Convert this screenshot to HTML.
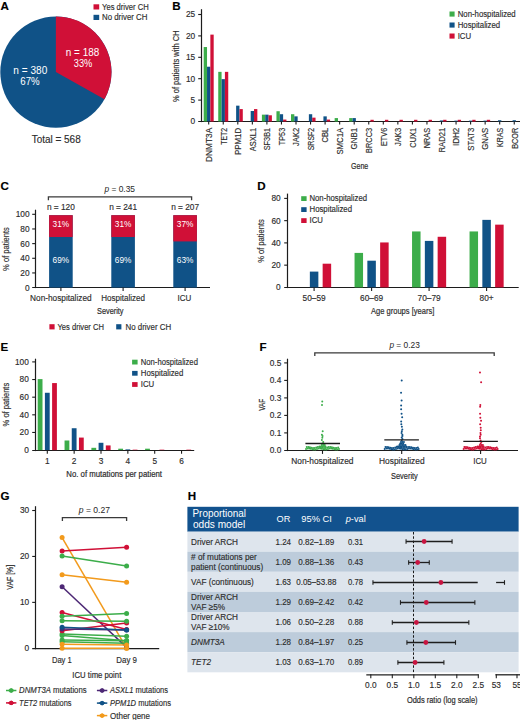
<!DOCTYPE html>
<html><head><meta charset="utf-8"><style>
html,body{margin:0;padding:0;background:#fff;width:520px;height:720px;overflow:hidden}
svg{display:block}
text{font-family:"Liberation Sans", sans-serif}
</style></head><body>
<svg width="520" height="720" viewBox="0 0 520 720">
<text x="0.6" y="9.6" font-size="11.6" fill="#000" stroke="#000" stroke-width="0.15" font-weight="bold">A</text>
<circle cx="55.9" cy="72.1" r="55.6" fill="#105287"/>
<path d="M55.9 72.1 L55.9 16.499999999999993 A55.6 55.6 0 0 1 104.46 99.19 Z" fill="#d01037"/>
<text x="82.5" y="55.8" font-size="10.69" text-anchor="middle" fill="#fff" textLength="33.4" lengthAdjust="spacingAndGlyphs">n = 188</text>
<text x="83" y="66.6" font-size="10.69" text-anchor="middle" fill="#fff" textLength="18.5" lengthAdjust="spacingAndGlyphs">33%</text>
<text x="30.3" y="73.8" font-size="10.69" text-anchor="middle" fill="#fff" textLength="33.9" lengthAdjust="spacingAndGlyphs">n = 380</text>
<text x="30" y="85.4" font-size="10.69" text-anchor="middle" fill="#fff" textLength="19.4" lengthAdjust="spacingAndGlyphs">67%</text>
<text x="31.7" y="142.75" font-size="11.19" fill="#2c2c2c" stroke="#2c2c2c" stroke-width="0.15" textLength="49" lengthAdjust="spacingAndGlyphs">Total = 568</text>
<rect x="93.5" y="4.3" width="5.7" height="5.2" fill="#d01037"/>
<text x="102" y="9.6" font-size="8.85" fill="#2c2c2c" stroke="#2c2c2c" stroke-width="0.15" textLength="46.8" lengthAdjust="spacingAndGlyphs">Yes driver CH</text>
<rect x="93.5" y="14.8" width="5.7" height="5.2" fill="#105287"/>
<text x="102" y="20.3" font-size="8.85" fill="#2c2c2c" stroke="#2c2c2c" stroke-width="0.15" textLength="45.4" lengthAdjust="spacingAndGlyphs">No driver CH</text>
<text x="172.2" y="9.6" font-size="11.6" fill="#000" stroke="#000" stroke-width="0.15" font-weight="bold">B</text>
<line x1="201.5" y1="9.2" x2="201.5" y2="122.1" stroke="#1c1c1c" stroke-width="1.2"/>
<line x1="198.2" y1="121.5" x2="520" y2="121.5" stroke="#1c1c1c" stroke-width="1.2"/>
<text x="195.2" y="124.4" font-size="8.3" text-anchor="end" fill="#2c2c2c" stroke="#2c2c2c" stroke-width="0.15">0</text>
<line x1="198.2" y1="100.1" x2="201.5" y2="100.1" stroke="#1c1c1c" stroke-width="1.1"/>
<text x="195.2" y="103" font-size="8.3" text-anchor="end" fill="#2c2c2c" stroke="#2c2c2c" stroke-width="0.15">5</text>
<line x1="198.2" y1="78.7" x2="201.5" y2="78.7" stroke="#1c1c1c" stroke-width="1.1"/>
<text x="195.2" y="81.6" font-size="8.3" text-anchor="end" fill="#2c2c2c" stroke="#2c2c2c" stroke-width="0.15">10</text>
<line x1="198.2" y1="57.3" x2="201.5" y2="57.3" stroke="#1c1c1c" stroke-width="1.1"/>
<text x="195.2" y="60.2" font-size="8.3" text-anchor="end" fill="#2c2c2c" stroke="#2c2c2c" stroke-width="0.15">15</text>
<line x1="198.2" y1="35.9" x2="201.5" y2="35.9" stroke="#1c1c1c" stroke-width="1.1"/>
<text x="195.2" y="38.8" font-size="8.3" text-anchor="end" fill="#2c2c2c" stroke="#2c2c2c" stroke-width="0.15">20</text>
<line x1="198.2" y1="14.5" x2="201.5" y2="14.5" stroke="#1c1c1c" stroke-width="1.1"/>
<text x="195.2" y="17.4" font-size="8.3" text-anchor="end" fill="#2c2c2c" stroke="#2c2c2c" stroke-width="0.15">25</text>
<rect x="203.7" y="47.03" width="3.33" height="74.47" fill="#3cad4a"/>
<rect x="207.03" y="66.72" width="3.33" height="54.78" fill="#105287"/>
<rect x="210.36" y="34.62" width="3.33" height="86.88" fill="#d01037"/>
<line x1="208.7" y1="121.5" x2="208.7" y2="124.5" stroke="#1c1c1c" stroke-width="1.1"/>
<text x="212" y="127.8" font-size="8.2" text-anchor="end" fill="#2c2c2c" stroke="#2c2c2c" stroke-width="0.15" textLength="34.2" lengthAdjust="spacingAndGlyphs" transform="rotate(-90 212 127.8)">DNMT3A</text>
<rect x="218.25" y="71.85" width="3.33" height="49.65" fill="#3cad4a"/>
<rect x="221.58" y="79.13" width="3.33" height="42.37" fill="#105287"/>
<rect x="224.91" y="71.85" width="3.33" height="49.65" fill="#d01037"/>
<line x1="223.25" y1="121.5" x2="223.25" y2="124.5" stroke="#1c1c1c" stroke-width="1.1"/>
<text x="226.55" y="127.8" font-size="8.2" text-anchor="end" fill="#2c2c2c" stroke="#2c2c2c" stroke-width="0.15" textLength="17" lengthAdjust="spacingAndGlyphs" transform="rotate(-90 226.55 127.8)">TET2</text>
<rect x="236.13" y="105.66" width="3.33" height="15.84" fill="#105287"/>
<rect x="239.46" y="109.09" width="3.33" height="12.41" fill="#d01037"/>
<line x1="237.8" y1="121.5" x2="237.8" y2="124.5" stroke="#1c1c1c" stroke-width="1.1"/>
<text x="241.1" y="127.8" font-size="8.2" text-anchor="end" fill="#2c2c2c" stroke="#2c2c2c" stroke-width="0.15" textLength="27.3" lengthAdjust="spacingAndGlyphs" transform="rotate(-90 241.1 127.8)">PPM1D</text>
<rect x="250.68" y="111.01" width="3.33" height="10.49" fill="#105287"/>
<rect x="254.01" y="109.09" width="3.33" height="12.41" fill="#d01037"/>
<line x1="252.35" y1="121.5" x2="252.35" y2="124.5" stroke="#1c1c1c" stroke-width="1.1"/>
<text x="255.65" y="127.8" font-size="8.2" text-anchor="end" fill="#2c2c2c" stroke="#2c2c2c" stroke-width="0.15" textLength="23.4" lengthAdjust="spacingAndGlyphs" transform="rotate(-90 255.65 127.8)">ASXL1</text>
<rect x="261.9" y="114.65" width="3.33" height="6.85" fill="#3cad4a"/>
<rect x="265.23" y="114.65" width="3.33" height="6.85" fill="#105287"/>
<rect x="268.56" y="115.29" width="3.33" height="6.21" fill="#d01037"/>
<line x1="266.9" y1="121.5" x2="266.9" y2="124.5" stroke="#1c1c1c" stroke-width="1.1"/>
<text x="270.2" y="127.8" font-size="8.2" text-anchor="end" fill="#2c2c2c" stroke="#2c2c2c" stroke-width="0.15" textLength="22.5" lengthAdjust="spacingAndGlyphs" transform="rotate(-90 270.2 127.8)">SF3B1</text>
<rect x="276.45" y="111.23" width="3.33" height="10.27" fill="#3cad4a"/>
<rect x="279.78" y="114.22" width="3.33" height="7.28" fill="#105287"/>
<rect x="283.11" y="119.57" width="3.33" height="1.93" fill="#d01037"/>
<line x1="281.45" y1="121.5" x2="281.45" y2="124.5" stroke="#1c1c1c" stroke-width="1.1"/>
<text x="284.75" y="127.8" font-size="8.2" text-anchor="end" fill="#2c2c2c" stroke="#2c2c2c" stroke-width="0.15" textLength="17.4" lengthAdjust="spacingAndGlyphs" transform="rotate(-90 284.75 127.8)">TP53</text>
<rect x="291" y="114.22" width="3.33" height="7.28" fill="#3cad4a"/>
<rect x="294.33" y="116.36" width="3.33" height="5.14" fill="#105287"/>
<line x1="296" y1="121.5" x2="296" y2="124.5" stroke="#1c1c1c" stroke-width="1.1"/>
<text x="299.3" y="127.8" font-size="8.2" text-anchor="end" fill="#2c2c2c" stroke="#2c2c2c" stroke-width="0.15" textLength="18.2" lengthAdjust="spacingAndGlyphs" transform="rotate(-90 299.3 127.8)">JAK2</text>
<rect x="308.88" y="114.22" width="3.33" height="7.28" fill="#105287"/>
<rect x="312.21" y="117.65" width="3.33" height="3.85" fill="#d01037"/>
<line x1="310.55" y1="121.5" x2="310.55" y2="124.5" stroke="#1c1c1c" stroke-width="1.1"/>
<text x="313.85" y="127.8" font-size="8.2" text-anchor="end" fill="#2c2c2c" stroke="#2c2c2c" stroke-width="0.15" textLength="22.5" lengthAdjust="spacingAndGlyphs" transform="rotate(-90 313.85 127.8)">SRSF2</text>
<rect x="323.43" y="116.36" width="3.33" height="5.14" fill="#105287"/>
<rect x="326.76" y="119.57" width="3.33" height="1.93" fill="#d01037"/>
<line x1="325.1" y1="121.5" x2="325.1" y2="124.5" stroke="#1c1c1c" stroke-width="1.1"/>
<text x="328.4" y="127.8" font-size="8.2" text-anchor="end" fill="#2c2c2c" stroke="#2c2c2c" stroke-width="0.15" textLength="14.7" lengthAdjust="spacingAndGlyphs" transform="rotate(-90 328.4 127.8)">CBL</text>
<rect x="334.65" y="118.08" width="3.33" height="3.42" fill="#3cad4a"/>
<line x1="339.65" y1="121.5" x2="339.65" y2="124.5" stroke="#1c1c1c" stroke-width="1.1"/>
<text x="342.95" y="127.8" font-size="8.2" text-anchor="end" fill="#2c2c2c" stroke="#2c2c2c" stroke-width="0.15" textLength="26.8" lengthAdjust="spacingAndGlyphs" transform="rotate(-90 342.95 127.8)">SMC1A</text>
<rect x="349.2" y="118.08" width="3.33" height="3.42" fill="#3cad4a"/>
<rect x="352.53" y="118.08" width="3.33" height="3.42" fill="#105287"/>
<line x1="354.2" y1="121.5" x2="354.2" y2="124.5" stroke="#1c1c1c" stroke-width="1.1"/>
<text x="357.5" y="127.8" font-size="8.2" text-anchor="end" fill="#2c2c2c" stroke="#2c2c2c" stroke-width="0.15" textLength="21.6" lengthAdjust="spacingAndGlyphs" transform="rotate(-90 357.5 127.8)">GNB1</text>
<rect x="370.41" y="119.79" width="3.33" height="1.71" fill="#d01037"/>
<line x1="368.75" y1="121.5" x2="368.75" y2="124.5" stroke="#1c1c1c" stroke-width="1.1"/>
<text x="372.05" y="127.8" font-size="8.2" text-anchor="end" fill="#2c2c2c" stroke="#2c2c2c" stroke-width="0.15" textLength="25.1" lengthAdjust="spacingAndGlyphs" transform="rotate(-90 372.05 127.8)">BRCC3</text>
<rect x="384.96" y="119.79" width="3.33" height="1.71" fill="#d01037"/>
<line x1="383.3" y1="121.5" x2="383.3" y2="124.5" stroke="#1c1c1c" stroke-width="1.1"/>
<text x="386.6" y="127.8" font-size="8.2" text-anchor="end" fill="#2c2c2c" stroke="#2c2c2c" stroke-width="0.15" textLength="18.2" lengthAdjust="spacingAndGlyphs" transform="rotate(-90 386.6 127.8)">ETV6</text>
<rect x="399.51" y="119.79" width="3.33" height="1.71" fill="#d01037"/>
<line x1="397.85" y1="121.5" x2="397.85" y2="124.5" stroke="#1c1c1c" stroke-width="1.1"/>
<text x="401.15" y="127.8" font-size="8.2" text-anchor="end" fill="#2c2c2c" stroke="#2c2c2c" stroke-width="0.15" textLength="18.2" lengthAdjust="spacingAndGlyphs" transform="rotate(-90 401.15 127.8)">JAK3</text>
<rect x="414.06" y="119.79" width="3.33" height="1.71" fill="#d01037"/>
<line x1="412.4" y1="121.5" x2="412.4" y2="124.5" stroke="#1c1c1c" stroke-width="1.1"/>
<text x="415.7" y="127.8" font-size="8.2" text-anchor="end" fill="#2c2c2c" stroke="#2c2c2c" stroke-width="0.15" textLength="19.9" lengthAdjust="spacingAndGlyphs" transform="rotate(-90 415.7 127.8)">CUX1</text>
<rect x="428.61" y="119.79" width="3.33" height="1.71" fill="#d01037"/>
<line x1="426.95" y1="121.5" x2="426.95" y2="124.5" stroke="#1c1c1c" stroke-width="1.1"/>
<text x="430.25" y="127.8" font-size="8.2" text-anchor="end" fill="#2c2c2c" stroke="#2c2c2c" stroke-width="0.15" textLength="20.5" lengthAdjust="spacingAndGlyphs" transform="rotate(-90 430.25 127.8)">NRAS</text>
<rect x="439.83" y="120.43" width="3.33" height="1.07" fill="#105287"/>
<rect x="443.16" y="119.79" width="3.33" height="1.71" fill="#d01037"/>
<line x1="441.5" y1="121.5" x2="441.5" y2="124.5" stroke="#1c1c1c" stroke-width="1.1"/>
<text x="444.8" y="127.8" font-size="8.2" text-anchor="end" fill="#2c2c2c" stroke="#2c2c2c" stroke-width="0.15" textLength="24.7" lengthAdjust="spacingAndGlyphs" transform="rotate(-90 444.8 127.8)">RAD21</text>
<rect x="454.38" y="120.64" width="3.33" height="0.86" fill="#105287"/>
<rect x="457.71" y="119.79" width="3.33" height="1.71" fill="#d01037"/>
<line x1="456.05" y1="121.5" x2="456.05" y2="124.5" stroke="#1c1c1c" stroke-width="1.1"/>
<text x="459.35" y="127.8" font-size="8.2" text-anchor="end" fill="#2c2c2c" stroke="#2c2c2c" stroke-width="0.15" textLength="18.3" lengthAdjust="spacingAndGlyphs" transform="rotate(-90 459.35 127.8)">IDH2</text>
<rect x="468.93" y="120.64" width="3.33" height="0.86" fill="#105287"/>
<rect x="472.26" y="119.79" width="3.33" height="1.71" fill="#d01037"/>
<line x1="470.6" y1="121.5" x2="470.6" y2="124.5" stroke="#1c1c1c" stroke-width="1.1"/>
<text x="473.9" y="127.8" font-size="8.2" text-anchor="end" fill="#2c2c2c" stroke="#2c2c2c" stroke-width="0.15" textLength="22.9" lengthAdjust="spacingAndGlyphs" transform="rotate(-90 473.9 127.8)">STAT3</text>
<rect x="483.48" y="120.64" width="3.33" height="0.86" fill="#105287"/>
<rect x="486.81" y="119.79" width="3.33" height="1.71" fill="#d01037"/>
<line x1="485.15" y1="121.5" x2="485.15" y2="124.5" stroke="#1c1c1c" stroke-width="1.1"/>
<text x="488.45" y="127.8" font-size="8.2" text-anchor="end" fill="#2c2c2c" stroke="#2c2c2c" stroke-width="0.15" textLength="21.9" lengthAdjust="spacingAndGlyphs" transform="rotate(-90 488.45 127.8)">GNAS</text>
<rect x="498.03" y="120.22" width="3.33" height="1.28" fill="#105287"/>
<line x1="499.7" y1="121.5" x2="499.7" y2="124.5" stroke="#1c1c1c" stroke-width="1.1"/>
<text x="503" y="127.8" font-size="8.2" text-anchor="end" fill="#2c2c2c" stroke="#2c2c2c" stroke-width="0.15" textLength="19.2" lengthAdjust="spacingAndGlyphs" transform="rotate(-90 503 127.8)">KRAS</text>
<rect x="512.58" y="120.22" width="3.33" height="1.28" fill="#105287"/>
<line x1="514.25" y1="121.5" x2="514.25" y2="124.5" stroke="#1c1c1c" stroke-width="1.1"/>
<text x="517.55" y="127.8" font-size="8.2" text-anchor="end" fill="#2c2c2c" stroke="#2c2c2c" stroke-width="0.15" textLength="21" lengthAdjust="spacingAndGlyphs" transform="rotate(-90 517.55 127.8)">BCOR</text>
<text x="178.7" y="66.2" font-size="8.5" text-anchor="middle" fill="#2c2c2c" stroke="#2c2c2c" stroke-width="0.15" textLength="71.5" lengthAdjust="spacingAndGlyphs" transform="rotate(-90 178.7 66.2)">% of patients with CH</text>
<text x="351" y="168.9" font-size="9.4" fill="#2c2c2c" stroke="#2c2c2c" stroke-width="0.2" textLength="17.3" lengthAdjust="spacingAndGlyphs">Gene</text>
<rect x="449.5" y="11.5" width="5.1" height="5.1" fill="#3cad4a"/>
<text x="457.7" y="16.7" font-size="8.74" fill="#2c2c2c" stroke="#2c2c2c" stroke-width="0.15" textLength="58" lengthAdjust="spacingAndGlyphs">Non-hospitalized</text>
<rect x="449.5" y="22.5" width="5.1" height="5.1" fill="#105287"/>
<text x="457.7" y="27.7" font-size="8.74" fill="#2c2c2c" stroke="#2c2c2c" stroke-width="0.15" textLength="42.49" lengthAdjust="spacingAndGlyphs">Hospitalized</text>
<rect x="449.5" y="33.5" width="5.1" height="5.1" fill="#d01037"/>
<text x="457.7" y="38.7" font-size="8.74" fill="#2c2c2c" stroke="#2c2c2c" stroke-width="0.15" textLength="13.43" lengthAdjust="spacingAndGlyphs">ICU</text>
<text x="0.6" y="190.4" font-size="11.6" fill="#000" stroke="#000" stroke-width="0.15" font-weight="bold">C</text>
<line x1="35.5" y1="209.7" x2="35.5" y2="288.1" stroke="#1c1c1c" stroke-width="1.2"/>
<line x1="32.2" y1="287.5" x2="210" y2="287.5" stroke="#1c1c1c" stroke-width="1.2"/>
<text x="29.6" y="290.5" font-size="8.3" text-anchor="end" fill="#2c2c2c" stroke="#2c2c2c" stroke-width="0.15">0</text>
<line x1="32.2" y1="272.94" x2="35.5" y2="272.94" stroke="#1c1c1c" stroke-width="1.1"/>
<text x="29.6" y="275.84" font-size="8.3" text-anchor="end" fill="#2c2c2c" stroke="#2c2c2c" stroke-width="0.15">20</text>
<line x1="32.2" y1="258.28" x2="35.5" y2="258.28" stroke="#1c1c1c" stroke-width="1.1"/>
<text x="29.6" y="261.18" font-size="8.3" text-anchor="end" fill="#2c2c2c" stroke="#2c2c2c" stroke-width="0.15">40</text>
<line x1="32.2" y1="243.62" x2="35.5" y2="243.62" stroke="#1c1c1c" stroke-width="1.1"/>
<text x="29.6" y="246.52" font-size="8.3" text-anchor="end" fill="#2c2c2c" stroke="#2c2c2c" stroke-width="0.15">60</text>
<line x1="32.2" y1="228.96" x2="35.5" y2="228.96" stroke="#1c1c1c" stroke-width="1.1"/>
<text x="29.6" y="231.86" font-size="8.3" text-anchor="end" fill="#2c2c2c" stroke="#2c2c2c" stroke-width="0.15">80</text>
<line x1="32.2" y1="214.3" x2="35.5" y2="214.3" stroke="#1c1c1c" stroke-width="1.1"/>
<text x="29.6" y="217.2" font-size="8.3" text-anchor="end" fill="#2c2c2c" stroke="#2c2c2c" stroke-width="0.15">100</text>
<rect x="49.1" y="215.2" width="23.6" height="72.4" fill="#105287"/>
<rect x="49.1" y="215.2" width="23.6" height="21.82" fill="#d01037"/>
<line x1="60.9" y1="287.6" x2="60.9" y2="291" stroke="#1c1c1c" stroke-width="1.1"/>
<text x="60.9" y="209.8" font-size="8.3" text-anchor="middle" fill="#2c2c2c" stroke="#2c2c2c" stroke-width="0.15">n = 120</text>
<text x="60.9" y="227" font-size="8.3" text-anchor="middle" fill="#fff">31%</text>
<text x="60.9" y="263" font-size="8.3" text-anchor="middle" fill="#fff">69%</text>
<rect x="111.3" y="215.2" width="23.6" height="72.4" fill="#105287"/>
<rect x="111.3" y="215.2" width="23.6" height="21.82" fill="#d01037"/>
<line x1="123.1" y1="287.6" x2="123.1" y2="291" stroke="#1c1c1c" stroke-width="1.1"/>
<text x="123.1" y="209.8" font-size="8.3" text-anchor="middle" fill="#2c2c2c" stroke="#2c2c2c" stroke-width="0.15">n = 241</text>
<text x="123.1" y="227" font-size="8.3" text-anchor="middle" fill="#fff">31%</text>
<text x="123.1" y="263" font-size="8.3" text-anchor="middle" fill="#fff">69%</text>
<rect x="173.3" y="215.2" width="23.6" height="72.4" fill="#105287"/>
<rect x="173.3" y="215.2" width="23.6" height="26.22" fill="#d01037"/>
<line x1="185.1" y1="287.6" x2="185.1" y2="291" stroke="#1c1c1c" stroke-width="1.1"/>
<text x="185.1" y="209.8" font-size="8.3" text-anchor="middle" fill="#2c2c2c" stroke="#2c2c2c" stroke-width="0.15">n = 207</text>
<text x="185.1" y="227" font-size="8.3" text-anchor="middle" fill="#fff">37%</text>
<text x="185.1" y="263" font-size="8.3" text-anchor="middle" fill="#fff">63%</text>
<path d="M48.4 200.3 V196.9 H191.6 V200.3" fill="none" stroke="#3a3a3a" stroke-width="1.3"/>
<text x="104.5" y="192" font-size="8.3" fill="#2c2c2c" stroke="#2c2c2c" stroke-width="0.05" textLength="30.5" lengthAdjust="spacingAndGlyphs"><tspan font-style="italic">p</tspan> = 0.35</text>
<text x="30.1" y="300.7" font-size="8.3" fill="#2c2c2c" stroke="#2c2c2c" stroke-width="0.15" textLength="61.5" lengthAdjust="spacingAndGlyphs">Non-hospitalized</text>
<text x="101.25" y="300.7" font-size="8.3" fill="#2c2c2c" stroke="#2c2c2c" stroke-width="0.15" textLength="43.75" lengthAdjust="spacingAndGlyphs">Hospitalized</text>
<text x="177.5" y="300.7" font-size="8.3" fill="#2c2c2c" stroke="#2c2c2c" stroke-width="0.15" textLength="13.75" lengthAdjust="spacingAndGlyphs">ICU</text>
<text x="97" y="314.2" font-size="9.4" fill="#2c2c2c" stroke="#2c2c2c" stroke-width="0.2" textLength="26.5" lengthAdjust="spacingAndGlyphs">Severity</text>
<text x="9.3" y="249" font-size="8.5" text-anchor="middle" fill="#2c2c2c" stroke="#2c2c2c" stroke-width="0.15" textLength="43.8" lengthAdjust="spacingAndGlyphs" transform="rotate(-90 9.3 249)">% of patients</text>
<rect x="49.4" y="324.2" width="5.2" height="5.2" fill="#d01037"/>
<text x="57.4" y="329.6" font-size="8.85" fill="#2c2c2c" stroke="#2c2c2c" stroke-width="0.15" textLength="46.6" lengthAdjust="spacingAndGlyphs">Yes driver CH</text>
<rect x="116.2" y="324.2" width="5.2" height="5.2" fill="#105287"/>
<text x="125.5" y="329.6" font-size="8.85" fill="#2c2c2c" stroke="#2c2c2c" stroke-width="0.15" textLength="45.7" lengthAdjust="spacingAndGlyphs">No driver CH</text>
<text x="257.2" y="190.4" font-size="11.6" fill="#000" stroke="#000" stroke-width="0.15" font-weight="bold">D</text>
<line x1="287.5" y1="193.6" x2="287.5" y2="288.1" stroke="#1c1c1c" stroke-width="1.2"/>
<line x1="284.2" y1="287.5" x2="518.7" y2="287.5" stroke="#1c1c1c" stroke-width="1.2"/>
<text x="280.7" y="290.3" font-size="8.3" text-anchor="end" fill="#2c2c2c" stroke="#2c2c2c" stroke-width="0.15">0</text>
<line x1="284.2" y1="265.15" x2="287.5" y2="265.15" stroke="#1c1c1c" stroke-width="1.1"/>
<text x="280.7" y="268.05" font-size="8.3" text-anchor="end" fill="#2c2c2c" stroke="#2c2c2c" stroke-width="0.15">20</text>
<line x1="284.2" y1="242.9" x2="287.5" y2="242.9" stroke="#1c1c1c" stroke-width="1.1"/>
<text x="280.7" y="245.8" font-size="8.3" text-anchor="end" fill="#2c2c2c" stroke="#2c2c2c" stroke-width="0.15">40</text>
<line x1="284.2" y1="220.65" x2="287.5" y2="220.65" stroke="#1c1c1c" stroke-width="1.1"/>
<text x="280.7" y="223.55" font-size="8.3" text-anchor="end" fill="#2c2c2c" stroke="#2c2c2c" stroke-width="0.15">60</text>
<line x1="284.2" y1="198.4" x2="287.5" y2="198.4" stroke="#1c1c1c" stroke-width="1.1"/>
<text x="280.7" y="201.3" font-size="8.3" text-anchor="end" fill="#2c2c2c" stroke="#2c2c2c" stroke-width="0.15">80</text>
<rect x="309.85" y="271.6" width="8.5" height="15.8" fill="#105287"/>
<rect x="322.65" y="263.7" width="8.5" height="23.7" fill="#d01037"/>
<line x1="314.1" y1="287.4" x2="314.1" y2="291" stroke="#1c1c1c" stroke-width="1.1"/>
<text x="314.1" y="300.5" font-size="8.3" text-anchor="middle" fill="#2c2c2c" stroke="#2c2c2c" stroke-width="0.15">50–59</text>
<rect x="354.55" y="252.91" width="8.5" height="34.49" fill="#3cad4a"/>
<rect x="367.35" y="260.7" width="8.5" height="26.7" fill="#105287"/>
<rect x="380.15" y="242.45" width="8.5" height="44.95" fill="#d01037"/>
<line x1="371.6" y1="287.4" x2="371.6" y2="291" stroke="#1c1c1c" stroke-width="1.1"/>
<text x="371.6" y="300.5" font-size="8.3" text-anchor="middle" fill="#2c2c2c" stroke="#2c2c2c" stroke-width="0.15">60–69</text>
<rect x="412.05" y="231.44" width="8.5" height="55.96" fill="#3cad4a"/>
<rect x="424.85" y="240.9" width="8.5" height="46.5" fill="#105287"/>
<rect x="437.65" y="236.78" width="8.5" height="50.62" fill="#d01037"/>
<line x1="429.1" y1="287.4" x2="429.1" y2="291" stroke="#1c1c1c" stroke-width="1.1"/>
<text x="429.1" y="300.5" font-size="8.3" text-anchor="middle" fill="#2c2c2c" stroke="#2c2c2c" stroke-width="0.15">70–79</text>
<rect x="469.55" y="231.44" width="8.5" height="55.96" fill="#3cad4a"/>
<rect x="482.35" y="219.87" width="8.5" height="67.53" fill="#105287"/>
<rect x="495.15" y="224.65" width="8.5" height="62.74" fill="#d01037"/>
<line x1="486.6" y1="287.4" x2="486.6" y2="291" stroke="#1c1c1c" stroke-width="1.1"/>
<text x="486.6" y="300.5" font-size="8.3" text-anchor="middle" fill="#2c2c2c" stroke="#2c2c2c" stroke-width="0.15">80+</text>
<text x="371" y="314.4" font-size="9.8" fill="#2c2c2c" stroke="#2c2c2c" stroke-width="0.2" textLength="63.3" lengthAdjust="spacingAndGlyphs">Age groups [years]</text>
<text x="264" y="241" font-size="8.5" text-anchor="middle" fill="#2c2c2c" stroke="#2c2c2c" stroke-width="0.15" textLength="43.7" lengthAdjust="spacingAndGlyphs" transform="rotate(-90 264 241)">% of patients</text>
<rect x="301.2" y="196.2" width="5.4" height="4.8" fill="#3cad4a"/>
<text x="309.5" y="201.2" font-size="8.58" fill="#2c2c2c" stroke="#2c2c2c" stroke-width="0.15" textLength="57.5" lengthAdjust="spacingAndGlyphs">Non-hospitalized</text>
<rect x="301.2" y="207.2" width="5.4" height="4.8" fill="#105287"/>
<text x="309.5" y="212.3" font-size="8.58" fill="#2c2c2c" stroke="#2c2c2c" stroke-width="0.15" textLength="42.49" lengthAdjust="spacingAndGlyphs">Hospitalized</text>
<rect x="301.2" y="218.2" width="5.4" height="4.8" fill="#d01037"/>
<text x="309.5" y="223.4" font-size="8.58" fill="#2c2c2c" stroke="#2c2c2c" stroke-width="0.15" textLength="13.43" lengthAdjust="spacingAndGlyphs">ICU</text>
<text x="0.6" y="351.2" font-size="11.6" fill="#000" stroke="#000" stroke-width="0.15" font-weight="bold">E</text>
<line x1="35.5" y1="358.7" x2="35.5" y2="451.1" stroke="#1c1c1c" stroke-width="1.2"/>
<line x1="32.2" y1="450.5" x2="194.2" y2="450.5" stroke="#1c1c1c" stroke-width="1.2"/>
<text x="28.8" y="453" font-size="8.3" text-anchor="end" fill="#2c2c2c" stroke="#2c2c2c" stroke-width="0.15">0</text>
<line x1="32.2" y1="432.46" x2="35.5" y2="432.46" stroke="#1c1c1c" stroke-width="1.1"/>
<text x="28.8" y="435.36" font-size="8.3" text-anchor="end" fill="#2c2c2c" stroke="#2c2c2c" stroke-width="0.15">20</text>
<line x1="32.2" y1="414.82" x2="35.5" y2="414.82" stroke="#1c1c1c" stroke-width="1.1"/>
<text x="28.8" y="417.72" font-size="8.3" text-anchor="end" fill="#2c2c2c" stroke="#2c2c2c" stroke-width="0.15">40</text>
<line x1="32.2" y1="397.18" x2="35.5" y2="397.18" stroke="#1c1c1c" stroke-width="1.1"/>
<text x="28.8" y="400.08" font-size="8.3" text-anchor="end" fill="#2c2c2c" stroke="#2c2c2c" stroke-width="0.15">60</text>
<line x1="32.2" y1="379.54" x2="35.5" y2="379.54" stroke="#1c1c1c" stroke-width="1.1"/>
<text x="28.8" y="382.44" font-size="8.3" text-anchor="end" fill="#2c2c2c" stroke="#2c2c2c" stroke-width="0.15">80</text>
<line x1="32.2" y1="361.9" x2="35.5" y2="361.9" stroke="#1c1c1c" stroke-width="1.1"/>
<text x="28.8" y="364.8" font-size="8.3" text-anchor="end" fill="#2c2c2c" stroke="#2c2c2c" stroke-width="0.15">100</text>
<rect x="37.7" y="379.1" width="4.8" height="71" fill="#3cad4a"/>
<rect x="44.9" y="392.77" width="4.8" height="57.33" fill="#105287"/>
<rect x="52.1" y="383.07" width="4.8" height="67.03" fill="#d01037"/>
<line x1="47.3" y1="450.1" x2="47.3" y2="453.7" stroke="#1c1c1c" stroke-width="1.1"/>
<text x="47.3" y="464" font-size="8.3" text-anchor="middle" fill="#2c2c2c" stroke="#2c2c2c" stroke-width="0.15">1</text>
<rect x="64.55" y="440.49" width="4.8" height="9.61" fill="#3cad4a"/>
<rect x="71.75" y="428.23" width="4.8" height="21.87" fill="#105287"/>
<rect x="78.95" y="437.58" width="4.8" height="12.52" fill="#d01037"/>
<line x1="74.15" y1="450.1" x2="74.15" y2="453.7" stroke="#1c1c1c" stroke-width="1.1"/>
<text x="74.15" y="464" font-size="8.3" text-anchor="middle" fill="#2c2c2c" stroke="#2c2c2c" stroke-width="0.15">2</text>
<rect x="91.4" y="447.81" width="4.8" height="2.29" fill="#3cad4a"/>
<rect x="98.6" y="442.78" width="4.8" height="7.32" fill="#105287"/>
<rect x="105.8" y="445.43" width="4.8" height="4.67" fill="#d01037"/>
<line x1="101" y1="450.1" x2="101" y2="453.7" stroke="#1c1c1c" stroke-width="1.1"/>
<text x="101" y="464" font-size="8.3" text-anchor="middle" fill="#2c2c2c" stroke="#2c2c2c" stroke-width="0.15">3</text>
<rect x="118.25" y="448.69" width="4.8" height="1.41" fill="#3cad4a"/>
<rect x="125.45" y="449.39" width="4.8" height="0.71" fill="#105287"/>
<rect x="132.65" y="449.66" width="4.8" height="0.44" fill="#d01037"/>
<line x1="127.85" y1="450.1" x2="127.85" y2="453.7" stroke="#1c1c1c" stroke-width="1.1"/>
<text x="127.85" y="464" font-size="8.3" text-anchor="middle" fill="#2c2c2c" stroke="#2c2c2c" stroke-width="0.15">4</text>
<rect x="145.1" y="448.69" width="4.8" height="1.41" fill="#3cad4a"/>
<rect x="159.5" y="449.66" width="4.8" height="0.44" fill="#d01037"/>
<line x1="154.7" y1="450.1" x2="154.7" y2="453.7" stroke="#1c1c1c" stroke-width="1.1"/>
<text x="154.7" y="464" font-size="8.3" text-anchor="middle" fill="#2c2c2c" stroke="#2c2c2c" stroke-width="0.15">5</text>
<rect x="186.35" y="449.66" width="4.8" height="0.44" fill="#d01037"/>
<line x1="181.55" y1="450.1" x2="181.55" y2="453.7" stroke="#1c1c1c" stroke-width="1.1"/>
<text x="181.55" y="464" font-size="8.3" text-anchor="middle" fill="#2c2c2c" stroke="#2c2c2c" stroke-width="0.15">6</text>
<text x="66.3" y="476.8" font-size="9" fill="#2c2c2c" stroke="#2c2c2c" stroke-width="0.2" textLength="95.7" lengthAdjust="spacingAndGlyphs">No. of mutations per patient</text>
<text x="8.6" y="404.6" font-size="8.5" text-anchor="middle" fill="#2c2c2c" stroke="#2c2c2c" stroke-width="0.15" textLength="43.6" lengthAdjust="spacingAndGlyphs" transform="rotate(-90 8.6 404.6)">% of patients</text>
<rect x="132.1" y="359.7" width="5.5" height="4.8" fill="#3cad4a"/>
<text x="140.8" y="364.5" font-size="8.74" fill="#2c2c2c" stroke="#2c2c2c" stroke-width="0.15" textLength="57.1" lengthAdjust="spacingAndGlyphs">Non-hospitalized</text>
<rect x="132.1" y="370.9" width="5.5" height="4.8" fill="#105287"/>
<text x="140.8" y="375.7" font-size="8.74" fill="#2c2c2c" stroke="#2c2c2c" stroke-width="0.15" textLength="42.49" lengthAdjust="spacingAndGlyphs">Hospitalized</text>
<rect x="132.1" y="382.1" width="5.5" height="4.8" fill="#d01037"/>
<text x="140.8" y="386.9" font-size="8.74" fill="#2c2c2c" stroke="#2c2c2c" stroke-width="0.15" textLength="13.43" lengthAdjust="spacingAndGlyphs">ICU</text>
<text x="259.4" y="351.2" font-size="11.6" fill="#000" stroke="#000" stroke-width="0.15" font-weight="bold">F</text>
<line x1="287.5" y1="358.7" x2="287.5" y2="451.1" stroke="#1c1c1c" stroke-width="1.2"/>
<line x1="284.2" y1="450.5" x2="518" y2="450.5" stroke="#1c1c1c" stroke-width="1.2"/>
<text x="281.3" y="453.3" font-size="8.3" text-anchor="end" fill="#2c2c2c" stroke="#2c2c2c" stroke-width="0.15">0.0</text>
<line x1="284.2" y1="432.9" x2="287.5" y2="432.9" stroke="#1c1c1c" stroke-width="1.1"/>
<text x="281.3" y="435.8" font-size="8.3" text-anchor="end" fill="#2c2c2c" stroke="#2c2c2c" stroke-width="0.15">0.1</text>
<line x1="284.2" y1="415.4" x2="287.5" y2="415.4" stroke="#1c1c1c" stroke-width="1.1"/>
<text x="281.3" y="418.3" font-size="8.3" text-anchor="end" fill="#2c2c2c" stroke="#2c2c2c" stroke-width="0.15">0.2</text>
<line x1="284.2" y1="397.9" x2="287.5" y2="397.9" stroke="#1c1c1c" stroke-width="1.1"/>
<text x="281.3" y="400.8" font-size="8.3" text-anchor="end" fill="#2c2c2c" stroke="#2c2c2c" stroke-width="0.15">0.3</text>
<line x1="284.2" y1="380.4" x2="287.5" y2="380.4" stroke="#1c1c1c" stroke-width="1.1"/>
<text x="281.3" y="383.3" font-size="8.3" text-anchor="end" fill="#2c2c2c" stroke="#2c2c2c" stroke-width="0.15">0.4</text>
<line x1="284.2" y1="362.9" x2="287.5" y2="362.9" stroke="#1c1c1c" stroke-width="1.1"/>
<text x="281.3" y="365.8" font-size="8.3" text-anchor="end" fill="#2c2c2c" stroke="#2c2c2c" stroke-width="0.15">0.5</text>
<path d="M314.8 356 V352.9 H494.2 V356" fill="none" stroke="#3a3a3a" stroke-width="1.3"/>
<text x="389.4" y="347.7" font-size="8.3" fill="#2c2c2c" stroke="#2c2c2c" stroke-width="0.05" textLength="30.4" lengthAdjust="spacingAndGlyphs"><tspan font-style="italic">p</tspan> = 0.23</text>
<line x1="322.5" y1="450.4" x2="322.5" y2="453.9" stroke="#1c1c1c" stroke-width="1.1"/>
<line x1="401.7" y1="450.4" x2="401.7" y2="453.9" stroke="#1c1c1c" stroke-width="1.1"/>
<line x1="480.6" y1="450.4" x2="480.6" y2="453.9" stroke="#1c1c1c" stroke-width="1.1"/>
<text x="291.2" y="463.5" font-size="8.3" fill="#2c2c2c" stroke="#2c2c2c" stroke-width="0.15" textLength="62.3" lengthAdjust="spacingAndGlyphs">Non-hospitalized</text>
<text x="379" y="463.5" font-size="8.3" fill="#2c2c2c" stroke="#2c2c2c" stroke-width="0.15" textLength="45.6" lengthAdjust="spacingAndGlyphs">Hospitalized</text>
<text x="473.2" y="463.5" font-size="8.3" fill="#2c2c2c" stroke="#2c2c2c" stroke-width="0.15" textLength="13.6" lengthAdjust="spacingAndGlyphs">ICU</text>
<text x="391" y="478.8" font-size="9.9" fill="#2c2c2c" stroke="#2c2c2c" stroke-width="0.2" textLength="26.8" lengthAdjust="spacingAndGlyphs">Severity</text>
<text x="264.6" y="404.9" font-size="9.2" text-anchor="middle" fill="#2c2c2c" stroke="#2c2c2c" stroke-width="0.2" textLength="11.9" lengthAdjust="spacingAndGlyphs" transform="rotate(-90 264.6 404.9)">VAF</text>
<circle cx="306" cy="449" r="1" fill="#3cad4a"/>
<circle cx="307.57" cy="448.53" r="1" fill="#3cad4a"/>
<circle cx="309.14" cy="448.42" r="1" fill="#3cad4a"/>
<circle cx="310.71" cy="448.74" r="1" fill="#3cad4a"/>
<circle cx="312.29" cy="449.27" r="1" fill="#3cad4a"/>
<circle cx="313.86" cy="449.59" r="1" fill="#3cad4a"/>
<circle cx="315.43" cy="449.46" r="1" fill="#3cad4a"/>
<circle cx="317" cy="448.99" r="1" fill="#3cad4a"/>
<circle cx="318.57" cy="448.52" r="1" fill="#3cad4a"/>
<circle cx="320.14" cy="448.42" r="1" fill="#3cad4a"/>
<circle cx="321.71" cy="448.75" r="1" fill="#3cad4a"/>
<circle cx="323.29" cy="449.27" r="1" fill="#3cad4a"/>
<circle cx="324.86" cy="449.59" r="1" fill="#3cad4a"/>
<circle cx="326.43" cy="449.46" r="1" fill="#3cad4a"/>
<circle cx="328" cy="448.98" r="1" fill="#3cad4a"/>
<circle cx="329.57" cy="448.52" r="1" fill="#3cad4a"/>
<circle cx="331.14" cy="448.42" r="1" fill="#3cad4a"/>
<circle cx="332.71" cy="448.76" r="1" fill="#3cad4a"/>
<circle cx="334.29" cy="449.28" r="1" fill="#3cad4a"/>
<circle cx="335.86" cy="449.59" r="1" fill="#3cad4a"/>
<circle cx="337.43" cy="449.45" r="1" fill="#3cad4a"/>
<circle cx="339" cy="448.97" r="1" fill="#3cad4a"/>
<circle cx="306.77" cy="447" r="1" fill="#3cad4a"/>
<circle cx="308.35" cy="446.93" r="1" fill="#3cad4a"/>
<circle cx="309.92" cy="447.3" r="1" fill="#3cad4a"/>
<circle cx="311.49" cy="447.82" r="1" fill="#3cad4a"/>
<circle cx="313.06" cy="448.1" r="1" fill="#3cad4a"/>
<circle cx="314.63" cy="447.92" r="1" fill="#3cad4a"/>
<circle cx="316.2" cy="447.43" r="1" fill="#3cad4a"/>
<circle cx="317.77" cy="446.99" r="1" fill="#3cad4a"/>
<circle cx="319.35" cy="446.94" r="1" fill="#3cad4a"/>
<circle cx="320.92" cy="447.31" r="1" fill="#3cad4a"/>
<circle cx="322.49" cy="447.83" r="1" fill="#3cad4a"/>
<circle cx="324.06" cy="448.1" r="1" fill="#3cad4a"/>
<circle cx="325.63" cy="447.92" r="1" fill="#3cad4a"/>
<circle cx="327.2" cy="447.42" r="1" fill="#3cad4a"/>
<circle cx="328.77" cy="446.98" r="1" fill="#3cad4a"/>
<circle cx="330.35" cy="446.94" r="1" fill="#3cad4a"/>
<circle cx="331.92" cy="447.32" r="1" fill="#3cad4a"/>
<circle cx="333.49" cy="447.83" r="1" fill="#3cad4a"/>
<circle cx="335.06" cy="448.1" r="1" fill="#3cad4a"/>
<circle cx="336.63" cy="447.91" r="1" fill="#3cad4a"/>
<circle cx="338.2" cy="447.41" r="1" fill="#3cad4a"/>
<circle cx="319.5" cy="446.4" r="1" fill="#3cad4a"/>
<circle cx="321" cy="446.4" r="1" fill="#3cad4a"/>
<circle cx="322.5" cy="446.4" r="1" fill="#3cad4a"/>
<circle cx="324" cy="446.4" r="1" fill="#3cad4a"/>
<circle cx="325.5" cy="446.4" r="1" fill="#3cad4a"/>
<circle cx="321.75" cy="444.9" r="1" fill="#3cad4a"/>
<circle cx="323.25" cy="444.9" r="1" fill="#3cad4a"/>
<circle cx="324.75" cy="444.9" r="1" fill="#3cad4a"/>
<circle cx="322.5" cy="443.4" r="1" fill="#3cad4a"/>
<circle cx="323.25" cy="441.9" r="1" fill="#3cad4a"/>
<circle cx="322.25" cy="401.4" r="1" fill="#3cad4a"/>
<circle cx="322.01" cy="404.9" r="1" fill="#3cad4a"/>
<circle cx="322.71" cy="431.15" r="1" fill="#3cad4a"/>
<circle cx="321.9" cy="434.65" r="1" fill="#3cad4a"/>
<circle cx="322.55" cy="436.05" r="1" fill="#3cad4a"/>
<circle cx="322.31" cy="437.8" r="1" fill="#3cad4a"/>
<circle cx="321.88" cy="439.9" r="1" fill="#3cad4a"/>
<circle cx="384.7" cy="449" r="1" fill="#105287"/>
<circle cx="386.32" cy="448.53" r="1" fill="#105287"/>
<circle cx="387.94" cy="448.42" r="1" fill="#105287"/>
<circle cx="389.56" cy="448.74" r="1" fill="#105287"/>
<circle cx="391.18" cy="449.27" r="1" fill="#105287"/>
<circle cx="392.8" cy="449.59" r="1" fill="#105287"/>
<circle cx="394.41" cy="449.46" r="1" fill="#105287"/>
<circle cx="396.03" cy="448.99" r="1" fill="#105287"/>
<circle cx="397.65" cy="448.52" r="1" fill="#105287"/>
<circle cx="399.27" cy="448.42" r="1" fill="#105287"/>
<circle cx="400.89" cy="448.75" r="1" fill="#105287"/>
<circle cx="402.51" cy="449.27" r="1" fill="#105287"/>
<circle cx="404.13" cy="449.59" r="1" fill="#105287"/>
<circle cx="405.75" cy="449.46" r="1" fill="#105287"/>
<circle cx="407.37" cy="448.98" r="1" fill="#105287"/>
<circle cx="408.99" cy="448.52" r="1" fill="#105287"/>
<circle cx="410.6" cy="448.42" r="1" fill="#105287"/>
<circle cx="412.22" cy="448.76" r="1" fill="#105287"/>
<circle cx="413.84" cy="449.28" r="1" fill="#105287"/>
<circle cx="415.46" cy="449.59" r="1" fill="#105287"/>
<circle cx="417.08" cy="449.45" r="1" fill="#105287"/>
<circle cx="418.7" cy="448.97" r="1" fill="#105287"/>
<circle cx="385.47" cy="447" r="1" fill="#105287"/>
<circle cx="387.09" cy="446.93" r="1" fill="#105287"/>
<circle cx="388.71" cy="447.3" r="1" fill="#105287"/>
<circle cx="390.33" cy="447.82" r="1" fill="#105287"/>
<circle cx="391.95" cy="448.1" r="1" fill="#105287"/>
<circle cx="393.57" cy="447.92" r="1" fill="#105287"/>
<circle cx="395.19" cy="447.43" r="1" fill="#105287"/>
<circle cx="396.81" cy="446.99" r="1" fill="#105287"/>
<circle cx="398.43" cy="446.94" r="1" fill="#105287"/>
<circle cx="400.05" cy="447.31" r="1" fill="#105287"/>
<circle cx="401.67" cy="447.83" r="1" fill="#105287"/>
<circle cx="403.28" cy="448.1" r="1" fill="#105287"/>
<circle cx="404.9" cy="447.92" r="1" fill="#105287"/>
<circle cx="406.52" cy="447.42" r="1" fill="#105287"/>
<circle cx="408.14" cy="446.98" r="1" fill="#105287"/>
<circle cx="409.76" cy="446.94" r="1" fill="#105287"/>
<circle cx="411.38" cy="447.32" r="1" fill="#105287"/>
<circle cx="413" cy="447.83" r="1" fill="#105287"/>
<circle cx="414.62" cy="448.1" r="1" fill="#105287"/>
<circle cx="416.24" cy="447.91" r="1" fill="#105287"/>
<circle cx="417.86" cy="447.41" r="1" fill="#105287"/>
<circle cx="397.2" cy="446.4" r="1" fill="#105287"/>
<circle cx="398.7" cy="446.4" r="1" fill="#105287"/>
<circle cx="400.2" cy="446.4" r="1" fill="#105287"/>
<circle cx="401.7" cy="446.4" r="1" fill="#105287"/>
<circle cx="403.2" cy="446.4" r="1" fill="#105287"/>
<circle cx="404.7" cy="446.4" r="1" fill="#105287"/>
<circle cx="406.2" cy="446.4" r="1" fill="#105287"/>
<circle cx="399.45" cy="444.9" r="1" fill="#105287"/>
<circle cx="400.95" cy="444.9" r="1" fill="#105287"/>
<circle cx="402.45" cy="444.9" r="1" fill="#105287"/>
<circle cx="403.95" cy="444.9" r="1" fill="#105287"/>
<circle cx="405.45" cy="444.9" r="1" fill="#105287"/>
<circle cx="400.2" cy="443.4" r="1" fill="#105287"/>
<circle cx="401.7" cy="443.4" r="1" fill="#105287"/>
<circle cx="403.2" cy="443.4" r="1" fill="#105287"/>
<circle cx="400.95" cy="441.9" r="1" fill="#105287"/>
<circle cx="402.45" cy="441.9" r="1" fill="#105287"/>
<circle cx="403.95" cy="441.9" r="1" fill="#105287"/>
<circle cx="401.7" cy="440.4" r="1" fill="#105287"/>
<circle cx="402.45" cy="438.9" r="1" fill="#105287"/>
<circle cx="401.7" cy="437.4" r="1" fill="#105287"/>
<circle cx="402.45" cy="435.9" r="1" fill="#105287"/>
<circle cx="401.71" cy="380.4" r="1" fill="#105287"/>
<circle cx="401.05" cy="392.65" r="1" fill="#105287"/>
<circle cx="401.61" cy="400.52" r="1" fill="#105287"/>
<circle cx="401.1" cy="405.6" r="1" fill="#105287"/>
<circle cx="401.13" cy="409.27" r="1" fill="#105287"/>
<circle cx="401.59" cy="413.65" r="1" fill="#105287"/>
<circle cx="402.16" cy="417.15" r="1" fill="#105287"/>
<circle cx="401.17" cy="421.52" r="1" fill="#105287"/>
<circle cx="401.31" cy="424.15" r="1" fill="#105287"/>
<circle cx="401.88" cy="426.77" r="1" fill="#105287"/>
<circle cx="402.33" cy="429.4" r="1" fill="#105287"/>
<circle cx="401.81" cy="431.15" r="1" fill="#105287"/>
<circle cx="401.56" cy="432.9" r="1" fill="#105287"/>
<circle cx="402.37" cy="434.65" r="1" fill="#105287"/>
<circle cx="463.6" cy="449" r="1" fill="#d01037"/>
<circle cx="465.22" cy="448.53" r="1" fill="#d01037"/>
<circle cx="466.84" cy="448.42" r="1" fill="#d01037"/>
<circle cx="468.46" cy="448.74" r="1" fill="#d01037"/>
<circle cx="470.08" cy="449.27" r="1" fill="#d01037"/>
<circle cx="471.7" cy="449.59" r="1" fill="#d01037"/>
<circle cx="473.31" cy="449.46" r="1" fill="#d01037"/>
<circle cx="474.93" cy="448.99" r="1" fill="#d01037"/>
<circle cx="476.55" cy="448.52" r="1" fill="#d01037"/>
<circle cx="478.17" cy="448.42" r="1" fill="#d01037"/>
<circle cx="479.79" cy="448.75" r="1" fill="#d01037"/>
<circle cx="481.41" cy="449.27" r="1" fill="#d01037"/>
<circle cx="483.03" cy="449.59" r="1" fill="#d01037"/>
<circle cx="484.65" cy="449.46" r="1" fill="#d01037"/>
<circle cx="486.27" cy="448.98" r="1" fill="#d01037"/>
<circle cx="487.89" cy="448.52" r="1" fill="#d01037"/>
<circle cx="489.5" cy="448.42" r="1" fill="#d01037"/>
<circle cx="491.12" cy="448.76" r="1" fill="#d01037"/>
<circle cx="492.74" cy="449.28" r="1" fill="#d01037"/>
<circle cx="494.36" cy="449.59" r="1" fill="#d01037"/>
<circle cx="495.98" cy="449.45" r="1" fill="#d01037"/>
<circle cx="497.6" cy="448.97" r="1" fill="#d01037"/>
<circle cx="464.38" cy="447" r="1" fill="#d01037"/>
<circle cx="465.99" cy="446.93" r="1" fill="#d01037"/>
<circle cx="467.61" cy="447.3" r="1" fill="#d01037"/>
<circle cx="469.23" cy="447.82" r="1" fill="#d01037"/>
<circle cx="470.85" cy="448.1" r="1" fill="#d01037"/>
<circle cx="472.47" cy="447.92" r="1" fill="#d01037"/>
<circle cx="474.09" cy="447.43" r="1" fill="#d01037"/>
<circle cx="475.71" cy="446.99" r="1" fill="#d01037"/>
<circle cx="477.33" cy="446.94" r="1" fill="#d01037"/>
<circle cx="478.95" cy="447.31" r="1" fill="#d01037"/>
<circle cx="480.57" cy="447.83" r="1" fill="#d01037"/>
<circle cx="482.18" cy="448.1" r="1" fill="#d01037"/>
<circle cx="483.8" cy="447.92" r="1" fill="#d01037"/>
<circle cx="485.42" cy="447.42" r="1" fill="#d01037"/>
<circle cx="487.04" cy="446.98" r="1" fill="#d01037"/>
<circle cx="488.66" cy="446.94" r="1" fill="#d01037"/>
<circle cx="490.28" cy="447.32" r="1" fill="#d01037"/>
<circle cx="491.9" cy="447.83" r="1" fill="#d01037"/>
<circle cx="493.52" cy="448.1" r="1" fill="#d01037"/>
<circle cx="495.14" cy="447.91" r="1" fill="#d01037"/>
<circle cx="496.76" cy="447.41" r="1" fill="#d01037"/>
<circle cx="477.6" cy="446.4" r="1" fill="#d01037"/>
<circle cx="479.1" cy="446.4" r="1" fill="#d01037"/>
<circle cx="480.6" cy="446.4" r="1" fill="#d01037"/>
<circle cx="482.1" cy="446.4" r="1" fill="#d01037"/>
<circle cx="483.6" cy="446.4" r="1" fill="#d01037"/>
<circle cx="479.85" cy="444.9" r="1" fill="#d01037"/>
<circle cx="481.35" cy="444.9" r="1" fill="#d01037"/>
<circle cx="482.85" cy="444.9" r="1" fill="#d01037"/>
<circle cx="480.6" cy="443.4" r="1" fill="#d01037"/>
<circle cx="481.35" cy="441.9" r="1" fill="#d01037"/>
<circle cx="480.6" cy="440.4" r="1" fill="#d01037"/>
<circle cx="479.97" cy="372.52" r="1" fill="#d01037"/>
<circle cx="481.1" cy="382.15" r="1" fill="#d01037"/>
<circle cx="480.31" cy="404.9" r="1" fill="#d01037"/>
<circle cx="480.1" cy="406.65" r="1" fill="#d01037"/>
<circle cx="480.06" cy="413.65" r="1" fill="#d01037"/>
<circle cx="480.33" cy="417.85" r="1" fill="#d01037"/>
<circle cx="481.04" cy="420.65" r="1" fill="#d01037"/>
<circle cx="480.15" cy="424.15" r="1" fill="#d01037"/>
<circle cx="480.71" cy="427.65" r="1" fill="#d01037"/>
<circle cx="480.79" cy="430.27" r="1" fill="#d01037"/>
<circle cx="480.42" cy="432.9" r="1" fill="#d01037"/>
<circle cx="480.67" cy="434.65" r="1" fill="#d01037"/>
<circle cx="479.99" cy="436.4" r="1" fill="#d01037"/>
<circle cx="479.98" cy="438.15" r="1" fill="#d01037"/>
<line x1="305.4" y1="443.5" x2="340" y2="443.5" stroke="#1c1c1c" stroke-width="1.3"/>
<line x1="384.3" y1="439.9" x2="418.9" y2="439.9" stroke="#1c1c1c" stroke-width="1.3"/>
<line x1="463.3" y1="441.3" x2="497.9" y2="441.3" stroke="#1c1c1c" stroke-width="1.3"/>
<text x="0.6" y="500.4" font-size="11.6" fill="#000" stroke="#000" stroke-width="0.15" font-weight="bold">G</text>
<line x1="35.5" y1="506.2" x2="35.5" y2="649.3" stroke="#1c1c1c" stroke-width="1.2"/>
<line x1="32.2" y1="648.7" x2="159.2" y2="648.7" stroke="#1c1c1c" stroke-width="1.2"/>
<text x="29.2" y="651.2" font-size="8.3" text-anchor="end" fill="#2c2c2c" stroke="#2c2c2c" stroke-width="0.15">0</text>
<line x1="32.2" y1="602.37" x2="35.5" y2="602.37" stroke="#1c1c1c" stroke-width="1.1"/>
<text x="29.2" y="605.27" font-size="8.3" text-anchor="end" fill="#2c2c2c" stroke="#2c2c2c" stroke-width="0.15">10</text>
<line x1="32.2" y1="556.44" x2="35.5" y2="556.44" stroke="#1c1c1c" stroke-width="1.1"/>
<text x="29.2" y="559.34" font-size="8.3" text-anchor="end" fill="#2c2c2c" stroke="#2c2c2c" stroke-width="0.15">20</text>
<line x1="32.2" y1="510.51" x2="35.5" y2="510.51" stroke="#1c1c1c" stroke-width="1.1"/>
<text x="29.2" y="513.41" font-size="8.3" text-anchor="end" fill="#2c2c2c" stroke="#2c2c2c" stroke-width="0.15">30</text>
<path d="M62.4 521 V517.6 H126.6 V521" fill="none" stroke="#3a3a3a" stroke-width="1.3"/>
<text x="78.75" y="512.5" font-size="8.3" fill="#2c2c2c" stroke="#2c2c2c" stroke-width="0.05" textLength="31.2" lengthAdjust="spacingAndGlyphs"><tspan font-style="italic">p</tspan> = 0.27</text>
<text x="51.9" y="662.5" font-size="8.3" fill="#2c2c2c" stroke="#2c2c2c" stroke-width="0.15" textLength="19.9" lengthAdjust="spacingAndGlyphs">Day 1</text>
<text x="116.3" y="662.5" font-size="8.3" fill="#2c2c2c" stroke="#2c2c2c" stroke-width="0.15" textLength="20.7" lengthAdjust="spacingAndGlyphs">Day 9</text>
<text x="72.3" y="677.6" font-size="9.8" fill="#2c2c2c" stroke="#2c2c2c" stroke-width="0.2" textLength="49" lengthAdjust="spacingAndGlyphs">ICU time point</text>
<text x="13.4" y="577.3" font-size="9.3" text-anchor="middle" fill="#2c2c2c" stroke="#2c2c2c" stroke-width="0.2" textLength="24.8" lengthAdjust="spacingAndGlyphs" transform="rotate(-90 13.4 577.3)">VAF [%]</text>
<line x1="62.1" y1="537.61" x2="126.6" y2="648.3" stroke="#f29a1c" stroke-width="1.5"/>
<line x1="62.1" y1="550.93" x2="126.6" y2="547.25" stroke="#d01037" stroke-width="1.5"/>
<line x1="62.1" y1="555.98" x2="126.6" y2="566.09" stroke="#3cad4a" stroke-width="1.5"/>
<line x1="62.1" y1="574.81" x2="126.6" y2="582.16" stroke="#f29a1c" stroke-width="1.5"/>
<line x1="62.1" y1="586.75" x2="126.6" y2="647.38" stroke="#4d2875" stroke-width="1.5"/>
<line x1="62.1" y1="641.87" x2="126.6" y2="643.25" stroke="#3cad4a" stroke-width="1.5"/>
<line x1="62.1" y1="640.03" x2="126.6" y2="640.72" stroke="#3cad4a" stroke-width="1.5"/>
<line x1="62.1" y1="635.44" x2="126.6" y2="640.72" stroke="#3cad4a" stroke-width="1.5"/>
<line x1="62.1" y1="634.06" x2="126.6" y2="636.36" stroke="#3cad4a" stroke-width="1.5"/>
<line x1="62.1" y1="630.85" x2="126.6" y2="623.04" stroke="#d01037" stroke-width="1.5"/>
<line x1="62.1" y1="612.47" x2="126.6" y2="629.47" stroke="#d01037" stroke-width="1.5"/>
<line x1="62.1" y1="629.01" x2="126.6" y2="629.93" stroke="#4d2875" stroke-width="1.5"/>
<line x1="62.1" y1="627.17" x2="126.6" y2="629.93" stroke="#105287" stroke-width="1.5"/>
<line x1="62.1" y1="620.74" x2="126.6" y2="621.2" stroke="#3cad4a" stroke-width="1.5"/>
<line x1="62.1" y1="616.15" x2="126.6" y2="613.39" stroke="#3cad4a" stroke-width="1.5"/>
<line x1="62.1" y1="644.17" x2="126.6" y2="645.08" stroke="#f29a1c" stroke-width="1.5"/>
<line x1="62.1" y1="648.3" x2="126.6" y2="648.3" stroke="#f29a1c" stroke-width="1.5"/>
<circle cx="62.1" cy="537.61" r="2.5" fill="#f29a1c"/>
<circle cx="126.6" cy="648.3" r="2.5" fill="#f29a1c"/>
<circle cx="62.1" cy="550.93" r="2.5" fill="#d01037"/>
<circle cx="126.6" cy="547.25" r="2.5" fill="#d01037"/>
<circle cx="62.1" cy="555.98" r="2.5" fill="#3cad4a"/>
<circle cx="126.6" cy="566.09" r="2.5" fill="#3cad4a"/>
<circle cx="62.1" cy="574.81" r="2.5" fill="#f29a1c"/>
<circle cx="126.6" cy="582.16" r="2.5" fill="#f29a1c"/>
<circle cx="62.1" cy="586.75" r="2.5" fill="#4d2875"/>
<circle cx="126.6" cy="647.38" r="2.5" fill="#4d2875"/>
<circle cx="62.1" cy="641.87" r="2.5" fill="#3cad4a"/>
<circle cx="126.6" cy="643.25" r="2.5" fill="#3cad4a"/>
<circle cx="62.1" cy="640.03" r="2.5" fill="#3cad4a"/>
<circle cx="126.6" cy="640.72" r="2.5" fill="#3cad4a"/>
<circle cx="62.1" cy="635.44" r="2.5" fill="#3cad4a"/>
<circle cx="126.6" cy="640.72" r="2.5" fill="#3cad4a"/>
<circle cx="62.1" cy="634.06" r="2.5" fill="#3cad4a"/>
<circle cx="126.6" cy="636.36" r="2.5" fill="#3cad4a"/>
<circle cx="62.1" cy="630.85" r="2.5" fill="#d01037"/>
<circle cx="126.6" cy="623.04" r="2.5" fill="#d01037"/>
<circle cx="62.1" cy="612.47" r="2.5" fill="#d01037"/>
<circle cx="126.6" cy="629.47" r="2.5" fill="#d01037"/>
<circle cx="62.1" cy="629.01" r="2.5" fill="#4d2875"/>
<circle cx="126.6" cy="629.93" r="2.5" fill="#4d2875"/>
<circle cx="62.1" cy="627.17" r="2.5" fill="#105287"/>
<circle cx="126.6" cy="629.93" r="2.5" fill="#105287"/>
<circle cx="62.1" cy="620.74" r="2.5" fill="#3cad4a"/>
<circle cx="126.6" cy="621.2" r="2.5" fill="#3cad4a"/>
<circle cx="62.1" cy="616.15" r="2.5" fill="#3cad4a"/>
<circle cx="126.6" cy="613.39" r="2.5" fill="#3cad4a"/>
<circle cx="62.1" cy="644.17" r="2.5" fill="#f29a1c"/>
<circle cx="126.6" cy="645.08" r="2.5" fill="#f29a1c"/>
<circle cx="62.1" cy="648.3" r="2.5" fill="#f29a1c"/>
<circle cx="126.6" cy="648.3" r="2.5" fill="#f29a1c"/>
<line x1="6" y1="690.5" x2="16.4" y2="690.5" stroke="#3cad4a" stroke-width="1.5"/>
<path d="M7.6 690.5 L11.2 688.2 L14.8 690.5 L11.2 692.8 Z" fill="#3cad4a"/>
<circle cx="11.2" cy="690.5" r="2.2" fill="#3cad4a"/>
<text x="19.1" y="693.4" font-size="8.9" fill="#2c2c2c" stroke="#2c2c2c" stroke-width="0.15" textLength="67.5" lengthAdjust="spacingAndGlyphs"><tspan font-style="italic">DNMT3A</tspan> mutations</text>
<line x1="6" y1="702.9" x2="16.4" y2="702.9" stroke="#d01037" stroke-width="1.5"/>
<path d="M7.6 702.9 L11.2 700.6 L14.8 702.9 L11.2 705.2 Z" fill="#d01037"/>
<circle cx="11.2" cy="702.9" r="2.2" fill="#d01037"/>
<text x="19.1" y="705.8" font-size="8.9" fill="#2c2c2c" stroke="#2c2c2c" stroke-width="0.15" textLength="52.4" lengthAdjust="spacingAndGlyphs"><tspan font-style="italic">TET2</tspan> mutations</text>
<line x1="96.9" y1="690.5" x2="107.3" y2="690.5" stroke="#4d2875" stroke-width="1.5"/>
<path d="M98.5 690.5 L102.1 688.2 L105.7 690.5 L102.1 692.8 Z" fill="#4d2875"/>
<circle cx="102.1" cy="690.5" r="2.2" fill="#4d2875"/>
<text x="110" y="693.4" font-size="8.9" fill="#2c2c2c" stroke="#2c2c2c" stroke-width="0.15" textLength="58" lengthAdjust="spacingAndGlyphs"><tspan font-style="italic">ASXL1</tspan> mutations</text>
<line x1="96.9" y1="703.1" x2="107.3" y2="703.1" stroke="#105287" stroke-width="1.5"/>
<path d="M98.5 703.1 L102.1 700.8 L105.7 703.1 L102.1 705.4 Z" fill="#105287"/>
<circle cx="102.1" cy="703.1" r="2.2" fill="#105287"/>
<text x="110" y="706" font-size="8.9" fill="#2c2c2c" stroke="#2c2c2c" stroke-width="0.15" textLength="61" lengthAdjust="spacingAndGlyphs"><tspan font-style="italic">PPM1D</tspan> mutations</text>
<line x1="96.9" y1="715.6" x2="107.3" y2="715.6" stroke="#f29a1c" stroke-width="1.5"/>
<path d="M98.5 715.6 L102.1 713.3 L105.7 715.6 L102.1 717.9 Z" fill="#f29a1c"/>
<circle cx="102.1" cy="715.6" r="2.2" fill="#f29a1c"/>
<text x="110" y="718.5" font-size="8.9" fill="#2c2c2c" stroke="#2c2c2c" stroke-width="0.15" textLength="40" lengthAdjust="spacingAndGlyphs"><tspan font-style="italic"></tspan>Other gene</text>
<text x="187.8" y="500.2" font-size="11.6" fill="#000" stroke="#000" stroke-width="0.15" font-weight="bold">H</text>
<rect x="187.4" y="506.8" width="331.2" height="25" fill="#12528e"/>
<rect x="187.4" y="531.6" width="331.2" height="20.11" fill="#dee5ed"/>
<rect x="187.4" y="551.7" width="331.2" height="20.11" fill="#bdccdb"/>
<rect x="187.4" y="571.8" width="331.2" height="20.11" fill="#dee5ed"/>
<rect x="187.4" y="591.9" width="331.2" height="20.11" fill="#bdccdb"/>
<rect x="187.4" y="612" width="331.2" height="20.11" fill="#dee5ed"/>
<rect x="187.4" y="632.1" width="331.2" height="20.11" fill="#bdccdb"/>
<rect x="187.4" y="652.2" width="331.2" height="20.11" fill="#dee5ed"/>
<text x="191.1" y="544.7" font-size="9.02" fill="#2c2c2c" stroke="#2c2c2c" stroke-width="0.15" textLength="46.93" lengthAdjust="spacingAndGlyphs">Driver ARCH</text>
<text x="275.5" y="544.7" font-size="9.43" fill="#2c2c2c" stroke="#2c2c2c" stroke-width="0.15" textLength="15.5" lengthAdjust="spacingAndGlyphs">1.24</text>
<text x="316.3" y="544.7" font-size="9.43" text-anchor="middle" fill="#2c2c2c" stroke="#2c2c2c" stroke-width="0.15" textLength="36" lengthAdjust="spacingAndGlyphs">0.82–1.89</text>
<text x="348" y="544.7" font-size="9.43" fill="#2c2c2c" stroke="#2c2c2c" stroke-width="0.15" textLength="14.9" lengthAdjust="spacingAndGlyphs">0.31</text>
<text x="191.1" y="559.7" font-size="9.02" fill="#2c2c2c" stroke="#2c2c2c" stroke-width="0.15" textLength="65.64" lengthAdjust="spacingAndGlyphs"># of mutations per</text>
<text x="191.1" y="569.7" font-size="9.02" fill="#2c2c2c" stroke="#2c2c2c" stroke-width="0.15" textLength="72.02" lengthAdjust="spacingAndGlyphs">patient (continuous)</text>
<text x="275.5" y="564.8" font-size="9.43" fill="#2c2c2c" stroke="#2c2c2c" stroke-width="0.15" textLength="15.5" lengthAdjust="spacingAndGlyphs">1.09</text>
<text x="316.3" y="564.8" font-size="9.43" text-anchor="middle" fill="#2c2c2c" stroke="#2c2c2c" stroke-width="0.15" textLength="36" lengthAdjust="spacingAndGlyphs">0.88–1.36</text>
<text x="348" y="564.8" font-size="9.43" fill="#2c2c2c" stroke="#2c2c2c" stroke-width="0.15" textLength="14.9" lengthAdjust="spacingAndGlyphs">0.43</text>
<text x="191.1" y="584.9" font-size="9.02" fill="#2c2c2c" stroke="#2c2c2c" stroke-width="0.15" textLength="62.74" lengthAdjust="spacingAndGlyphs">VAF (continuous)</text>
<text x="275.5" y="584.9" font-size="9.43" fill="#2c2c2c" stroke="#2c2c2c" stroke-width="0.15" textLength="15.5" lengthAdjust="spacingAndGlyphs">1.63</text>
<text x="316.3" y="584.9" font-size="9.43" text-anchor="middle" fill="#2c2c2c" stroke="#2c2c2c" stroke-width="0.15" textLength="40.2" lengthAdjust="spacingAndGlyphs">0.05–53.88</text>
<text x="348" y="584.9" font-size="9.43" fill="#2c2c2c" stroke="#2c2c2c" stroke-width="0.15" textLength="14.9" lengthAdjust="spacingAndGlyphs">0.78</text>
<text x="191.1" y="599.9" font-size="9.02" fill="#2c2c2c" stroke="#2c2c2c" stroke-width="0.15" textLength="46.93" lengthAdjust="spacingAndGlyphs">Driver ARCH</text>
<text x="191.1" y="609.9" font-size="9.02" fill="#2c2c2c" stroke="#2c2c2c" stroke-width="0.15" textLength="33.97" lengthAdjust="spacingAndGlyphs">VAF ≥5%</text>
<text x="275.5" y="605" font-size="9.43" fill="#2c2c2c" stroke="#2c2c2c" stroke-width="0.15" textLength="15.5" lengthAdjust="spacingAndGlyphs">1.29</text>
<text x="316.3" y="605" font-size="9.43" text-anchor="middle" fill="#2c2c2c" stroke="#2c2c2c" stroke-width="0.15" textLength="36" lengthAdjust="spacingAndGlyphs">0.69–2.42</text>
<text x="348" y="605" font-size="9.43" fill="#2c2c2c" stroke="#2c2c2c" stroke-width="0.15" textLength="14.9" lengthAdjust="spacingAndGlyphs">0.42</text>
<text x="191.1" y="620" font-size="9.02" fill="#2c2c2c" stroke="#2c2c2c" stroke-width="0.15" textLength="46.93" lengthAdjust="spacingAndGlyphs">Driver ARCH</text>
<text x="191.1" y="630" font-size="9.02" fill="#2c2c2c" stroke="#2c2c2c" stroke-width="0.15" textLength="38.53" lengthAdjust="spacingAndGlyphs">VAF ≥10%</text>
<text x="275.5" y="625.1" font-size="9.43" fill="#2c2c2c" stroke="#2c2c2c" stroke-width="0.15" textLength="15.5" lengthAdjust="spacingAndGlyphs">1.06</text>
<text x="316.3" y="625.1" font-size="9.43" text-anchor="middle" fill="#2c2c2c" stroke="#2c2c2c" stroke-width="0.15" textLength="36" lengthAdjust="spacingAndGlyphs">0.50–2.28</text>
<text x="348" y="625.1" font-size="9.43" fill="#2c2c2c" stroke="#2c2c2c" stroke-width="0.15" textLength="14.9" lengthAdjust="spacingAndGlyphs">0.88</text>
<text x="191.1" y="645.2" font-size="9.02" fill="#2c2c2c" stroke="#2c2c2c" stroke-width="0.15" textLength="33.71" lengthAdjust="spacingAndGlyphs" font-style="italic">DNMT3A</text>
<text x="275.5" y="645.2" font-size="9.43" fill="#2c2c2c" stroke="#2c2c2c" stroke-width="0.15" textLength="15.5" lengthAdjust="spacingAndGlyphs">1.28</text>
<text x="316.3" y="645.2" font-size="9.43" text-anchor="middle" fill="#2c2c2c" stroke="#2c2c2c" stroke-width="0.15" textLength="36" lengthAdjust="spacingAndGlyphs">0.84–1.97</text>
<text x="348" y="645.2" font-size="9.43" fill="#2c2c2c" stroke="#2c2c2c" stroke-width="0.15" textLength="14.9" lengthAdjust="spacingAndGlyphs">0.25</text>
<text x="191.1" y="665.3" font-size="9.02" fill="#2c2c2c" stroke="#2c2c2c" stroke-width="0.15" textLength="20.05" lengthAdjust="spacingAndGlyphs" font-style="italic">TET2</text>
<text x="275.5" y="665.3" font-size="9.43" fill="#2c2c2c" stroke="#2c2c2c" stroke-width="0.15" textLength="15.5" lengthAdjust="spacingAndGlyphs">1.03</text>
<text x="316.3" y="665.3" font-size="9.43" text-anchor="middle" fill="#2c2c2c" stroke="#2c2c2c" stroke-width="0.15" textLength="36" lengthAdjust="spacingAndGlyphs">0.63–1.70</text>
<text x="348" y="665.3" font-size="9.43" fill="#2c2c2c" stroke="#2c2c2c" stroke-width="0.15" textLength="14.9" lengthAdjust="spacingAndGlyphs">0.89</text>
<line x1="413.5" y1="532" x2="413.5" y2="672.3" stroke="#1a1a1a" stroke-width="1" stroke-dasharray="2.5,1.8"/>
<line x1="406.06" y1="541.5" x2="452.07" y2="541.5" stroke="#1e1e1e" stroke-width="1.3"/>
<line x1="406.06" y1="539.2" x2="406.06" y2="543.8" stroke="#222" stroke-width="1.1"/>
<line x1="452.07" y1="539.2" x2="452.07" y2="543.8" stroke="#222" stroke-width="1.1"/>
<circle cx="424.12" cy="541.5" r="2.4" fill="#c81440"/>
<line x1="408.64" y1="562.5" x2="429.28" y2="562.5" stroke="#1e1e1e" stroke-width="1.3"/>
<line x1="408.64" y1="560.2" x2="408.64" y2="564.8" stroke="#222" stroke-width="1.1"/>
<line x1="429.28" y1="560.2" x2="429.28" y2="564.8" stroke="#222" stroke-width="1.1"/>
<circle cx="417.67" cy="562.5" r="2.4" fill="#c81440"/>
<line x1="372.95" y1="582.5" x2="477.7" y2="582.5" stroke="#1e1e1e" stroke-width="1.3"/>
<line x1="372.95" y1="580.2" x2="372.95" y2="584.8" stroke="#222" stroke-width="1.1"/>
<line x1="496.1" y1="582.5" x2="504.5" y2="582.5" stroke="#1e1e1e" stroke-width="1.3"/>
<line x1="504.5" y1="580.2" x2="504.5" y2="584.8" stroke="#222" stroke-width="1.1"/>
<circle cx="440.89" cy="582.5" r="2.4" fill="#c81440"/>
<line x1="400.47" y1="602.5" x2="474.86" y2="602.5" stroke="#1e1e1e" stroke-width="1.3"/>
<line x1="400.47" y1="600.2" x2="400.47" y2="604.8" stroke="#222" stroke-width="1.1"/>
<line x1="474.86" y1="600.2" x2="474.86" y2="604.8" stroke="#222" stroke-width="1.1"/>
<circle cx="426.27" cy="602.5" r="2.4" fill="#c81440"/>
<line x1="392.3" y1="622.5" x2="468.84" y2="622.5" stroke="#1e1e1e" stroke-width="1.3"/>
<line x1="392.3" y1="620.2" x2="392.3" y2="624.8" stroke="#222" stroke-width="1.1"/>
<line x1="468.84" y1="620.2" x2="468.84" y2="624.8" stroke="#222" stroke-width="1.1"/>
<circle cx="416.38" cy="622.5" r="2.4" fill="#c81440"/>
<line x1="406.92" y1="642.5" x2="455.51" y2="642.5" stroke="#1e1e1e" stroke-width="1.3"/>
<line x1="406.92" y1="640.2" x2="406.92" y2="644.8" stroke="#222" stroke-width="1.1"/>
<line x1="455.51" y1="640.2" x2="455.51" y2="644.8" stroke="#222" stroke-width="1.1"/>
<circle cx="425.84" cy="642.5" r="2.4" fill="#c81440"/>
<line x1="397.89" y1="662.5" x2="443.9" y2="662.5" stroke="#1e1e1e" stroke-width="1.3"/>
<line x1="397.89" y1="660.2" x2="397.89" y2="664.8" stroke="#222" stroke-width="1.1"/>
<line x1="443.9" y1="660.2" x2="443.9" y2="664.8" stroke="#222" stroke-width="1.1"/>
<circle cx="415.09" cy="662.5" r="2.4" fill="#c81440"/>
<text x="192.5" y="517.1" font-size="10.4" fill="#fff" textLength="53.5" lengthAdjust="spacingAndGlyphs">Proportional</text>
<text x="192.9" y="527.8" font-size="10.4" fill="#fff" textLength="52.3" lengthAdjust="spacingAndGlyphs">odds model</text>
<text x="276.5" y="522.2" font-size="9.9" fill="#fff" textLength="13.8" lengthAdjust="spacingAndGlyphs">OR</text>
<text x="301.3" y="522.2" font-size="9.9" fill="#fff" textLength="30.6" lengthAdjust="spacingAndGlyphs">95% CI</text>
<text x="345.7" y="522.2" font-size="9.9" fill="#fff" stroke="#fff" stroke-width="0.0" textLength="20" lengthAdjust="spacingAndGlyphs"><tspan font-style="italic">p</tspan>-val</text>
<line x1="366.3" y1="674.8" x2="478.5" y2="674.8" stroke="#222" stroke-width="1.3"/>
<line x1="495.4" y1="674.8" x2="520" y2="674.8" stroke="#222" stroke-width="1.3"/>
<line x1="370.8" y1="674.2" x2="370.8" y2="678.3" stroke="#222" stroke-width="1.1"/>
<text x="370.8" y="688.3" font-size="8.96" text-anchor="middle" fill="#2c2c2c" stroke="#2c2c2c" stroke-width="0.15" textLength="11.54" lengthAdjust="spacingAndGlyphs">0.0</text>
<line x1="392.3" y1="674.2" x2="392.3" y2="678.3" stroke="#222" stroke-width="1.1"/>
<text x="392.3" y="688.3" font-size="8.96" text-anchor="middle" fill="#2c2c2c" stroke="#2c2c2c" stroke-width="0.15" textLength="11.54" lengthAdjust="spacingAndGlyphs">0.5</text>
<line x1="413.8" y1="674.2" x2="413.8" y2="678.3" stroke="#222" stroke-width="1.1"/>
<text x="413.8" y="688.3" font-size="8.96" text-anchor="middle" fill="#2c2c2c" stroke="#2c2c2c" stroke-width="0.15" textLength="11.54" lengthAdjust="spacingAndGlyphs">1.0</text>
<line x1="435.3" y1="674.2" x2="435.3" y2="678.3" stroke="#222" stroke-width="1.1"/>
<text x="435.3" y="688.3" font-size="8.96" text-anchor="middle" fill="#2c2c2c" stroke="#2c2c2c" stroke-width="0.15" textLength="11.54" lengthAdjust="spacingAndGlyphs">1.5</text>
<line x1="456.8" y1="674.2" x2="456.8" y2="678.3" stroke="#222" stroke-width="1.1"/>
<text x="456.8" y="688.3" font-size="8.96" text-anchor="middle" fill="#2c2c2c" stroke="#2c2c2c" stroke-width="0.15" textLength="11.54" lengthAdjust="spacingAndGlyphs">2.0</text>
<line x1="478.3" y1="674.2" x2="478.3" y2="678.3" stroke="#222" stroke-width="1.1"/>
<text x="478.3" y="688.3" font-size="8.96" text-anchor="middle" fill="#2c2c2c" stroke="#2c2c2c" stroke-width="0.15" textLength="11.54" lengthAdjust="spacingAndGlyphs">2.5</text>
<line x1="496.3" y1="674.2" x2="496.3" y2="678.3" stroke="#222" stroke-width="1.1"/>
<text x="496.3" y="688.3" font-size="8.96" text-anchor="middle" fill="#2c2c2c" stroke="#2c2c2c" stroke-width="0.15" textLength="9.23" lengthAdjust="spacingAndGlyphs">53</text>
<line x1="517" y1="674.2" x2="517" y2="678.3" stroke="#222" stroke-width="1.1"/>
<text x="517" y="688.3" font-size="8.96" text-anchor="middle" fill="#2c2c2c" stroke="#2c2c2c" stroke-width="0.15" textLength="9.23" lengthAdjust="spacingAndGlyphs">55</text>
<text x="406.9" y="702.6" font-size="9" fill="#2c2c2c" stroke="#2c2c2c" stroke-width="0.2" textLength="70.6" lengthAdjust="spacingAndGlyphs">Odds ratio (log scale)</text>
</svg></body></html>
